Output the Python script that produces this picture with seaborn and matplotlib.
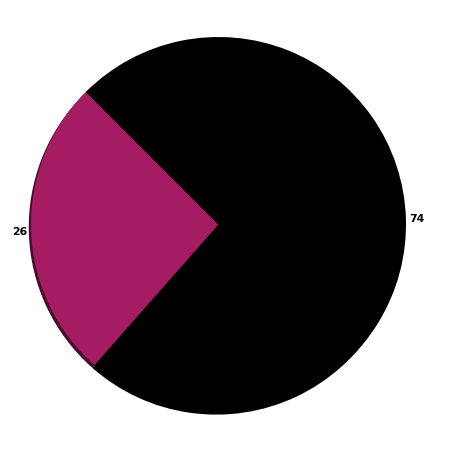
import matplotlib
matplotlib.use("Agg")
import matplotlib.pyplot as plt
import seaborn as sns

sns.set_theme(style="white")
plt.rcParams['font.family'] = ['DejaVu Sans']

labels = ["26", "74"]
values = [26, 74]
colors = ["#A51C62", "#000000"]
shadow_colors = ["#4A0C2C", "#000000"]

fig = plt.figure(figsize=(4.6, 4.52), dpi=100)
ax = fig.add_axes([31/460, 39/452, 375/460, 375/452])
# shadow layer
ax.pie(values, colors=shadow_colors, startangle=135, counterclock=True,
       center=(-0.012, -0.014), wedgeprops={'linewidth': 0})
wedges, texts = ax.pie(values, labels=labels, colors=colors, startangle=135,
                       counterclock=True, labeldistance=1.02,
                       textprops={'fontsize': 7.8, 'fontweight': 'bold', 'color': 'black'},
                       wedgeprops={'linewidth': 0})
ax.set_xlim(-1, 1)
ax.set_ylim(-1, 1)
ax.set_aspect('equal')
ax.axis('off')
fig.savefig("out.png", dpi=100)
